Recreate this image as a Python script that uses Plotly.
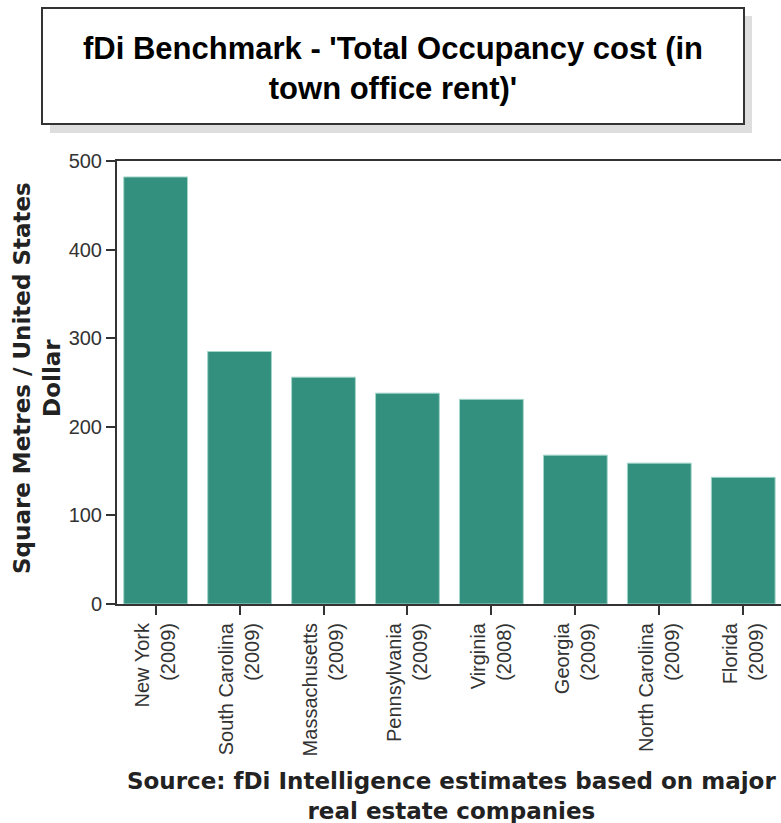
import plotly.graph_objects as go

# Office occupancy cost by state (USD per square metre)
states = ["New York", "South Carolina", "Massachusetts", "Pennsylvania",
          "Virginia", "Georgia", "North Carolina", "Florida"]
years = ["2009", "2009", "2009", "2009", "2008", "2009", "2009", "2009"]
costs = [482, 285, 256, 238, 231, 168, 159, 143]
y_ticks = [0, 100, 200, 300, 400, 500]

labels = [f"{s}<br>({y})" for s, y in zip(states, years)]

W, H = 781, 823
L, T, R, B = 117, 161, 0, 219
pw, ph = W - L - R, H - T - B


def px(x):
    return (x - L) / pw


def py(y):
    return (H - B - y) / ph


fig = go.Figure(
    go.Bar(
        x=labels,
        y=costs,
        marker=dict(color="#338f7e", line=dict(color="#a3d6ca", width=1)),
        width=0.76,
    )
)

# Title panel with drop shadow
fig.add_shape(type="rect", xref="paper", yref="paper",
              x0=px(50), x1=px(752), y0=py(133), y1=py(16),
              fillcolor="#dedede", line=dict(width=0), layer="below")
fig.add_shape(type="rect", xref="paper", yref="paper",
              x0=px(42), x1=px(744), y0=py(124), y1=py(8),
              fillcolor="white", line=dict(color="#333333", width=2), layer="below")
fig.add_annotation(xref="paper", yref="paper", x=px(393), y=py(69),
                   xanchor="center", yanchor="middle", showarrow=False,
                   text="<b>fDi Benchmark - 'Total Occupancy cost (in<br>town office rent)'</b>",
                   font=dict(family="Liberation Sans, Arial", size=31, color="black"))

# Y axis title
fig.add_annotation(xref="paper", yref="paper", x=px(37), y=py(378),
                   xanchor="center", yanchor="middle", showarrow=False, textangle=-90,
                   text="<b>Square Metres / United States<br>Dollar</b>",
                   font=dict(family="DejaVu Sans", size=23, color="#222222"))

# Source note
fig.add_annotation(xref="paper", yref="paper", x=px(451), y=py(796),
                   xanchor="center", yanchor="middle", showarrow=False,
                   text="<b>Source: fDi Intelligence estimates based on major<br>real estate companies</b>",
                   font=dict(family="DejaVu Sans", size=23, color="#222222"))

fig.update_layout(
    width=W, height=H,
    margin=dict(l=L, r=R, t=T, b=B, pad=0),
    paper_bgcolor="white", plot_bgcolor="white",
    showlegend=False,
    xaxis=dict(
        range=[-0.46, 7.45],
        showline=True, linecolor="#333333", linewidth=2, mirror=True,
        ticks="outside", ticklen=9, tickcolor="#333333", tickwidth=2,
        tickangle=-90,
        tickfont=dict(family="Liberation Sans, Arial", size=20, color="#333333"),
        showgrid=False,
    ),
    yaxis=dict(
        range=[0, 500], tickvals=y_ticks,
        showline=True, linecolor="#333333", linewidth=2,
        ticks="outside", ticklen=9, tickcolor="#333333", tickwidth=2,
        tickfont=dict(family="Liberation Sans, Arial", size=20, color="#333333"),
        showgrid=False, zeroline=False,
    ),
)

fig.write_html("out.html")
